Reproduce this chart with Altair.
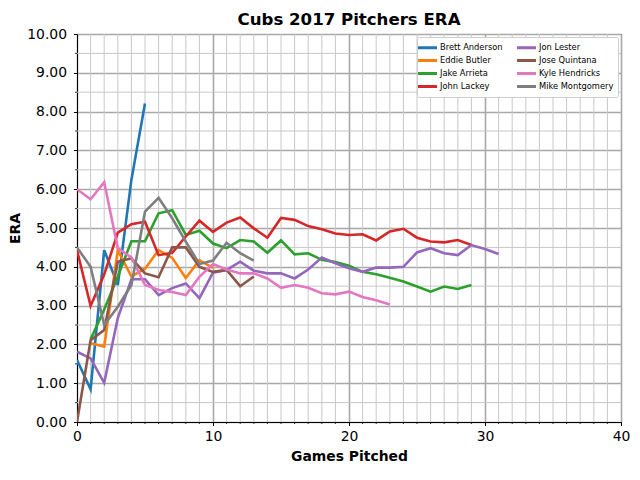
import altair as alt
import pandas as pd

# ---- data ----
pitchers = ["Brett Anderson", "Eddie Butler", "Jake Arrieta", "John Lackey",
            "Jon Lester", "Jose Quintana", "Kyle Hendricks", "Mike Montgomery"]
colors = ["#1f77b4", "#ff7f0e", "#2ca02c", "#d62728",
          "#9467bd", "#8c564b", "#e377c2", "#7f7f7f"]
first_game = [0, 1, 1, 0, 0, 0, 0, 0]

brett_era = [1.60, 0.84, 4.43, 3.53, 6.24, 8.21]
eddie_era = [2.03, 1.94, 4.43, 3.75, 3.95, 4.43, 4.23, 3.71, 4.17, 3.97]
jake_era = [2.13, 2.90, 3.75, 4.66, 4.66, 5.38, 5.46, 4.82, 4.93, 4.60,
            4.48, 4.69, 4.65, 4.36, 4.68, 4.32, 4.35, 4.18, 4.12, 4.03,
            3.87, 3.81, 3.72, 3.62, 3.49, 3.36, 3.49, 3.43, 3.53]
john_era = [4.43, 2.99, 3.80, 4.88, 5.10, 5.16, 4.30, 4.36, 4.78, 5.19,
            4.90, 5.14, 5.27, 4.99, 4.75, 5.26, 5.21, 5.05, 4.97, 4.86,
            4.82, 4.84, 4.68, 4.91, 4.98, 4.75, 4.65, 4.63, 4.69, 4.56]
jon_era = [1.81, 1.64, 1.01, 2.68, 3.68, 3.68, 3.27, 3.45, 3.57, 3.19,
           3.85, 3.92, 4.13, 3.90, 3.83, 3.83, 3.70, 3.93, 4.24, 4.09,
           3.96, 3.87, 3.98, 3.98, 4.00, 4.37, 4.48, 4.35, 4.30, 4.56,
           4.46, 4.33]
jose_era = [0.00, 2.11, 2.37, 4.13, 4.22, 3.83, 3.73, 4.50, 4.50, 4.00,
            3.87, 3.92, 3.50, 3.75]
kyle_era = [6.00, 5.74, 6.18, 4.48, 4.24, 3.53, 3.40, 3.35, 3.27, 3.74,
            4.07, 3.93, 3.83, 3.83, 3.70, 3.46, 3.53, 3.46, 3.32, 3.29,
            3.36, 3.22, 3.14, 3.03]
mike_era = [4.50, 4.00, 2.50, 2.97, 3.53, 5.42, 5.78, 5.25, 4.65, 4.07,
            4.16, 4.62, 4.35, 4.16]
era_lists = [brett_era, eddie_era, jake_era, john_era,
             jon_era, jose_era, kyle_era, mike_era]

x_major = [0, 10, 20, 30, 40]
x_minor = [g for g in range(0, 41) if g % 10 != 0]
y_major = list(range(0, 11))
y_minor = [v + 0.5 for v in range(0, 10)]

W, H = 544, 388
FONT = "DejaVu Sans"

xs = alt.Scale(domain=[0, 40], nice=False, zero=False)
ys = alt.Scale(domain=[0, 10], nice=False, zero=False)
xaxis = alt.Axis(values=x_major, format="d", title="Games Pitched",
                 grid=True, gridColor="#a8a8a8", gridWidth=1.6,
                 tickSize=3.5, tickColor="black", tickWidth=1,
                 domainColor="black", labelPadding=4, titlePadding=6,
                 labelFlush=False)
yaxis = alt.Axis(values=y_major, format=".2f", title="ERA",
                 grid=True, gridColor="#a8a8a8", gridWidth=1.6,
                 tickSize=3.5, tickColor="black", tickWidth=1,
                 domainColor="black", labelPadding=7, titlePadding=4,
                 labelFlush=False)


def X(field):
    return alt.X(field, type="quantitative", scale=xs, axis=xaxis, title="Games Pitched")


def Y(field):
    return alt.Y(field, type="quantitative", scale=ys, axis=yaxis, title="ERA")


xminor_df = pd.DataFrame({"game": x_minor})
yminor_df = pd.DataFrame({"era": y_minor})

minor_x_grid = alt.Chart(xminor_df).mark_rule(color="#c8c8c8", strokeWidth=1).encode(x=X("game"))
minor_y_grid = alt.Chart(yminor_df).mark_rule(color="#c8c8c8", strokeWidth=1).encode(y=Y("era"))
minor_x_ticks = alt.Chart(xminor_df).mark_rule(color="black", strokeWidth=0.8).encode(
    x=X("game"), y=alt.value(H), y2=alt.value(H + 2))
minor_y_ticks = alt.Chart(yminor_df).mark_rule(color="black", strokeWidth=0.8).encode(
    y=Y("era"), x=alt.value(0), x2=alt.value(-2))

color = alt.Color("pitcher:N", scale=alt.Scale(domain=pitchers, range=colors),
                  legend=alt.Legend(title=None))

line_layers = []
for name, start, eras in zip(pitchers, first_game, era_lists):
    d = pd.DataFrame({"pitcher": name,
                      "game": list(range(start, start + len(eras))),
                      "era": eras})
    line_layers.append(
        alt.Chart(d).mark_line(strokeWidth=2.6, clip=True).encode(
            x=X("game"), y=Y("era"), color=color))

chart = alt.layer(minor_x_grid, minor_y_grid, minor_x_ticks, minor_y_ticks,
                  *line_layers).properties(
    width=W, height=H,
    title=alt.Title("Cubs 2017 Pitchers ERA", fontSize=16.6, font=FONT,
                    fontWeight="bold", offset=-2, frame="group"),
    autosize=alt.AutoSizeParams(type="none"),
    padding={"left": 69, "top": 26, "right": 11, "bottom": 50},
).configure_view(stroke="black", strokeWidth=1).configure_axis(
    labelFont=FONT, titleFont=FONT, labelFontSize=13.9, titleFontSize=13.9,
    titleFontWeight="bold", labelColor="black", titleColor="black",
).configure_legend(
    orient="top-right", offset=3, columns=2, symbolType="M-1.9,0H1.9",
    symbolSize=100, symbolStrokeWidth=3, labelFont=FONT, labelFontSize=8.3,
    labelColor="black", labelOffset=6, fillColor="white",
    strokeColor="#cccccc", padding=4, rowPadding=0, columnPadding=8,
    cornerRadius=2,
)

chart.save("out.html", embed_options={"renderer": "svg", "actions": False})
